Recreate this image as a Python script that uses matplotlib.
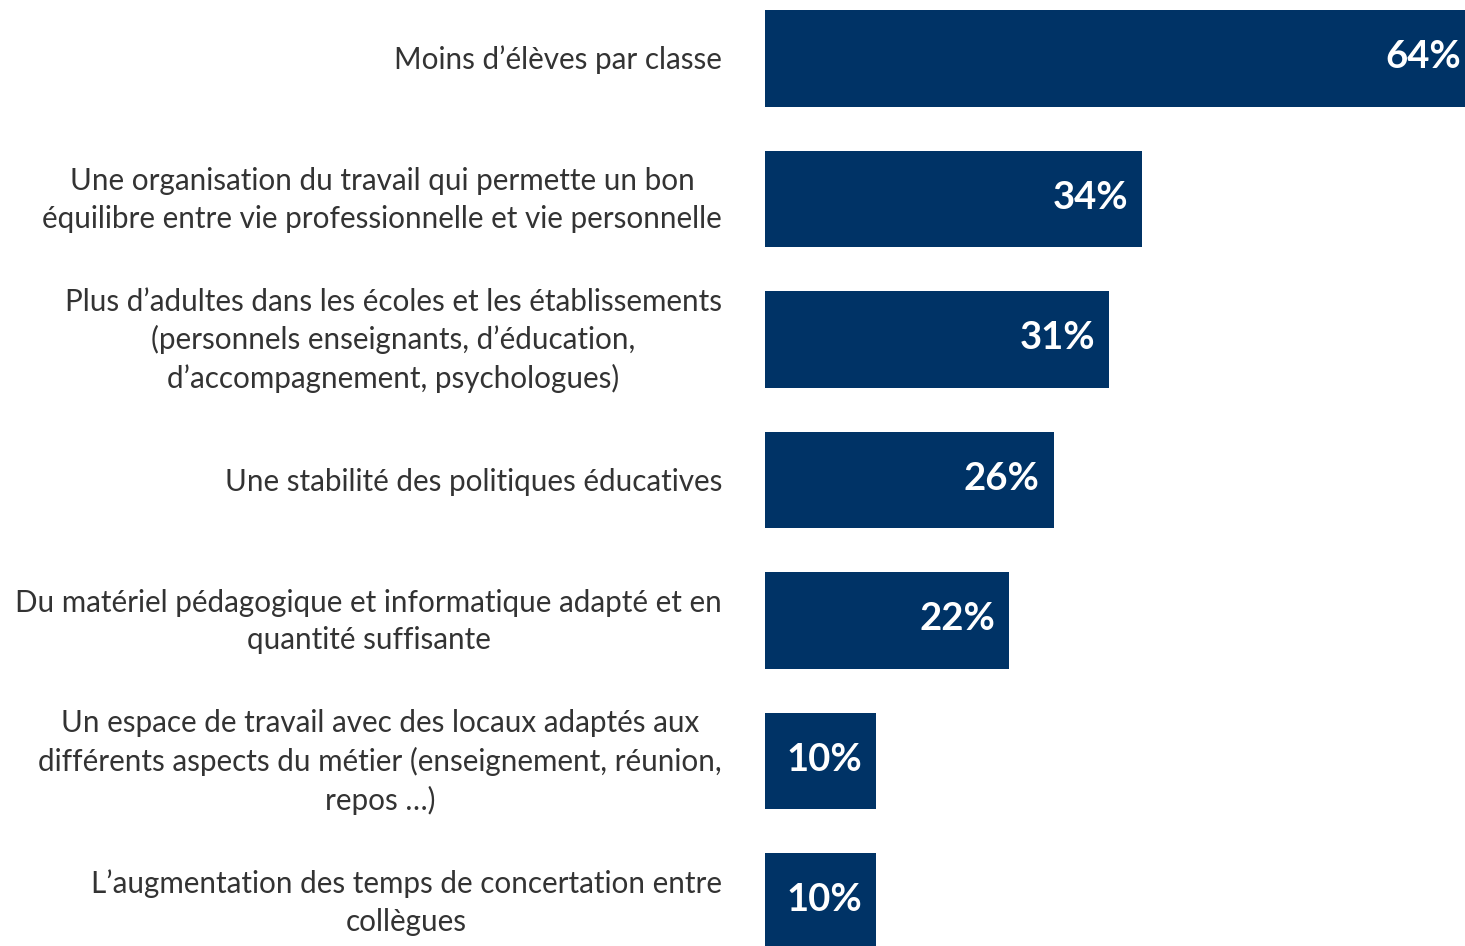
import matplotlib
matplotlib.use("Agg")
import matplotlib.pyplot as plt
from matplotlib.transforms import ScaledTranslation

categories = [
    "Moins d\u2019\u00e9l\u00e8ves par classe",
    "Une organisation du travail qui permette un bon\n\u00e9quilibre entre vie professionnelle et vie personnelle",
    "Plus d\u2019adultes dans les \u00e9coles et les \u00e9tablissements\n(personnels enseignants, d\u2019\u00e9ducation,\nd\u2019accompagnement, psychologues)",
    "Une stabilit\u00e9 des politiques \u00e9ducatives",
    "Du mat\u00e9riel p\u00e9dagogique et informatique adapt\u00e9 et en\nquantit\u00e9 suffisante",
    "Un espace de travail avec des locaux adapt\u00e9s aux\ndiff\u00e9rents aspects du m\u00e9tier (enseignement, r\u00e9union,\nrepos \u2026)",
    "L\u2019augmentation des temps de concertation entre\ncoll\u00e8gues",
]
values = [64, 34, 31, 26, 22, 10, 10]
value_labels = ["64%", "34%", "31%", "26%", "22%", "10%", "10%"]

W, H = 1465, 946
fig = plt.figure(figsize=(W / 100, H / 100), dpi=100)
ax = fig.add_axes([765 / W, 0, 1 - 765 / W, 1])

ypos = list(range(len(categories)))
bars = ax.barh(ypos, values, height=0.69, color="#003366")
ax.set_xlim(0, 700 / 11.1)
ax.set_ylim(6 + (946 - 901.5) / 140.5, -58.5 / 140.5)

for b, lab in zip(bars, value_labels):
    ax.annotate(lab, xy=(b.get_width(), b.get_y() + b.get_height() / 2),
                xytext=(-10, 1), textcoords="offset points",
                ha="right", va="center", color="white", fontsize=27.5,
                fontweight="bold", family="Lato", annotation_clip=False)

for y, cat in zip(ypos, categories):
    dy = -1 if "\n" in cat else -1.5
    tr = ax.get_yaxis_transform() + ScaledTranslation(-43 / 100, dy / 100, fig.dpi_scale_trans)
    ax.text(0, y, cat, transform=tr, ha="right", va="center", multialignment="center",
            fontsize=21.3, family="Lato", color="#333333", linespacing=1.41)

ax.set_yticks([])
ax.set_xticks([])
for s in ax.spines.values():
    s.set_visible(False)

fig.savefig("out.png", dpi=100)
